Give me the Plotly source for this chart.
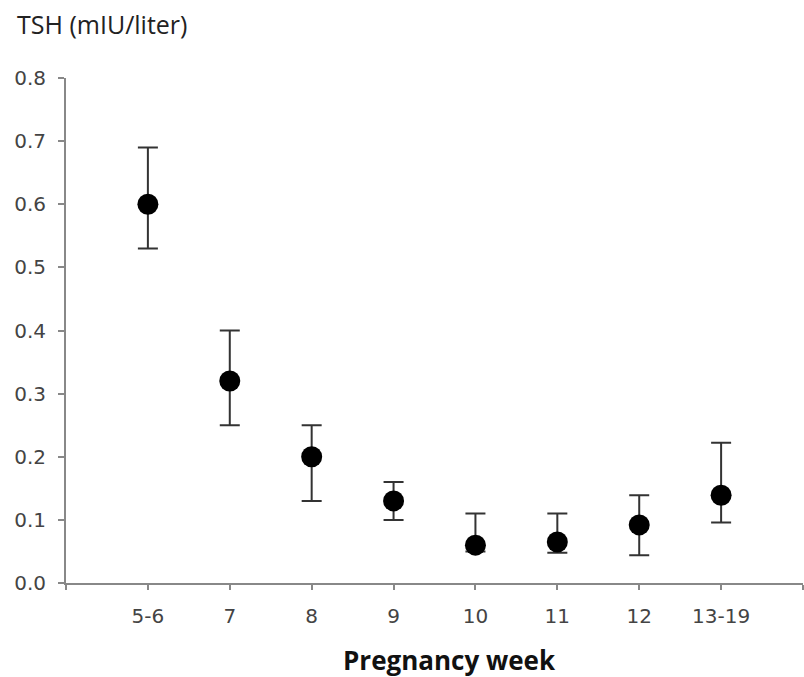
import plotly.graph_objects as go

categories = ["5-6", "7", "8", "9", "10", "11", "12", "13-19"]
tsh_mean = [0.60, 0.32, 0.20, 0.13, 0.06, 0.065, 0.092, 0.139]
err_upper = [0.09, 0.08, 0.05, 0.03, 0.05, 0.045, 0.047, 0.083]
err_lower = [0.07, 0.07, 0.07, 0.03, 0.01, 0.017, 0.048, 0.043]
y_ticks = [0.0, 0.1, 0.2, 0.3, 0.4, 0.5, 0.6, 0.7, 0.8]

xpos = list(range(1, len(categories) + 1))

fig = go.Figure()
fig.add_trace(go.Scatter(
    x=xpos, y=tsh_mean, mode="markers",
    marker=dict(color="black", size=21, symbol="circle"),
    error_y=dict(type="data", symmetric=False, array=err_upper, arrayminus=err_lower,
                 color="#333333", thickness=2, width=10),
    showlegend=False,
))

tickfont = dict(family="DejaVu Sans, sans-serif", size=20, color="#444444")

fig.update_layout(
    width=804, height=677,
    margin=dict(l=66, r=1, t=78, b=94),
    paper_bgcolor="white", plot_bgcolor="white",
    xaxis=dict(
        range=[0, len(categories) + 1],
        tickvals=[0] + xpos + [len(categories) + 1],
        ticktext=[""] + categories + [""],
        showgrid=False, zeroline=False,
        showline=True, linecolor="#888888", linewidth=2,
        ticks="outside", ticklen=5, tickwidth=1.5, tickcolor="#888888",
        tickfont=tickfont, ticklabelstandoff=9,
    ),
    yaxis=dict(
        range=[0, 0.8],
        tickvals=y_ticks,
        ticktext=[f"{v:.1f}" for v in y_ticks],
        showgrid=False, zeroline=False,
        showline=True, linecolor="#888888", linewidth=2,
        ticks="outside", ticklen=6, tickwidth=1.5, tickcolor="#888888",
        tickfont=tickfont, ticklabelstandoff=8,
    ),
    annotations=[
        dict(text="TSH (mIU/liter)", xref="paper", yref="paper",
             x=-0.0695, y=1.107, xanchor="left", yanchor="middle", showarrow=False,
             font=dict(family="Open Sans, sans-serif", size=25, color="#222222")),
        dict(text="<b>Pregnancy week</b>", xref="paper", yref="paper",
             x=0.52, y=-0.152, xanchor="center", yanchor="middle", showarrow=False,
             font=dict(family="Open Sans, sans-serif", size=26, color="#111111")),
    ],
)

fig.write_html("out.html")
